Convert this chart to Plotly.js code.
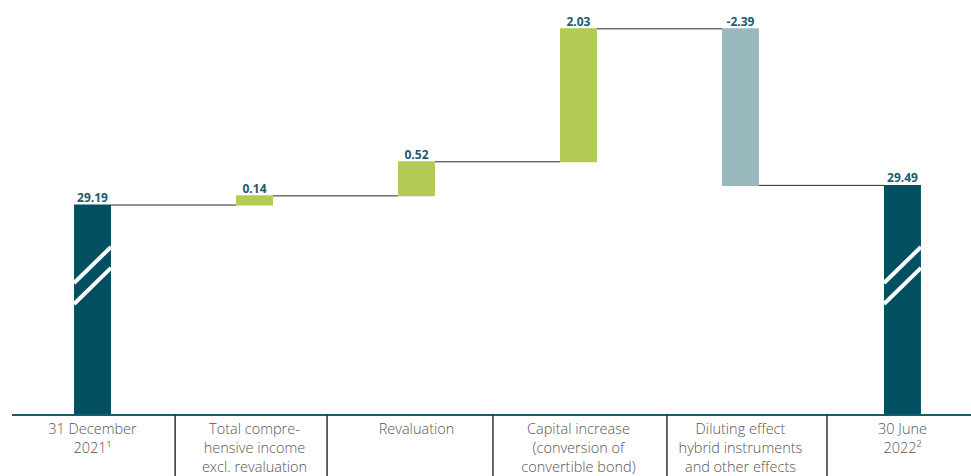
<!DOCTYPE html>
<html>
<head>
<meta charset="utf-8">
<script src="https://cdn.plot.ly/plotly-3.0.1.min.js"></script>
<style>html,body{margin:0;padding:0;background:#fff;}#chart{width:971px;height:476px;}</style>
</head>
<body>
<div id="chart"></div>
<script>
// ---- data ----
const categories = [
  "31 December<br>2021\u00B9",
  "Total compre-<br>hensive income<br>excl. revaluation",
  "Revaluation",
  "Capital increase<br>(conversion of<br>convertible bond)",
  "Diluting effect<br>hybrid instruments<br>and other effects",
  "30 June<br>2022\u00B2"
];
const measures = ["absolute", "relative", "relative", "relative", "relative", "total"];
const values = [29.19, 0.14, 0.52, 2.03, -2.39, 29.49];
const labels = ["29.19", "0.14", "0.52", "2.03", "-2.39", "29.49"];

// ---- derived ----
const xs = categories.map((c, i) => i);
const tops = [];
let run = 0;
values.forEach((v, i) => {
  if (measures[i] === "absolute") { run = v; tops.push(v); }
  else if (measures[i] === "total") { tops.push(run); }
  else { const prev = run; run += v; tops.push(Math.max(prev, run)); }
});

const BW = 0.228;
const axisBase = 26;
const yTop = 32.32;

const waterfall = {
  type: "waterfall",
  x: xs,
  y: values.map((v, i) => measures[i] === "total" ? 0 : v),
  measure: measures,
  width: xs.map(() => BW),
  textinfo: "none",
  increasing: { marker: { color: "#b1cb55" } },
  decreasing: { marker: { color: "#99b9bf" } },
  totals: { marker: { color: "#034f62" } },
  connector: { mode: "between", line: { color: "#2a2a2a", width: 1 } },
  hoverinfo: "skip",
  cliponaxis: true
};

const textTrace = {
  type: "scatter",
  mode: "text",
  x: xs,
  y: tops,
  text: labels,
  textposition: "top center",
  textfont: { family: "Open Sans, sans-serif", size: 12, color: "#1d5a6d", weight: "bold" },
  hoverinfo: "skip",
  cliponaxis: false
};

// break marks on the total bars
const shapes = [];
[0, 5].forEach(i => {
  [[28.0, 28.55], [27.68, 28.23]].forEach(([a, b]) => {
    shapes.push({ type: "line", xref: "x", yref: "y", x0: i - BW / 2, x1: i + BW / 2, y0: a, y1: b,
      line: { color: "#ffffff", width: 4 } });
  });
});
// separators between categories
const sepShift = [0.01, -0.052, -0.028, 0.046, 0.034];
for (let i = 0; i < categories.length - 1; i++) {
  const sx = i + 0.5 + sepShift[i];
  shapes.push({ type: "line", xref: "x", yref: "paper", x0: sx, x1: sx, y0: 0, y1: -0.16,
    line: { color: "#333333", width: 1.5 } });
}

const layout = {
  width: 971, height: 476,
  margin: { l: 12, r: 0, t: 0, b: 62, pad: 0 },
  paper_bgcolor: "#ffffff", plot_bgcolor: "#ffffff",
  showlegend: false,
  xaxis: {
    range: [-0.497, 5.423],
    tickvals: xs, ticktext: categories,
    showgrid: false, zeroline: false,
    showline: true, linecolor: "#1d5a6d", linewidth: 2,
    ticks: "",
    ticklabelstandoff: 1,
    tickfont: { family: "Open Sans, sans-serif", size: 14.5, color: "#555555", weight: 300 },
    fixedrange: true
  },
  yaxis: {
    range: [axisBase, yTop],
    visible: false, showgrid: false, zeroline: false, fixedrange: true
  },
  shapes: shapes,
  font: { family: "Open Sans, sans-serif" }
};

Plotly.newPlot("chart", [waterfall, textTrace], layout, { displayModeBar: false, staticPlot: true });
</script>
</body>
</html>
